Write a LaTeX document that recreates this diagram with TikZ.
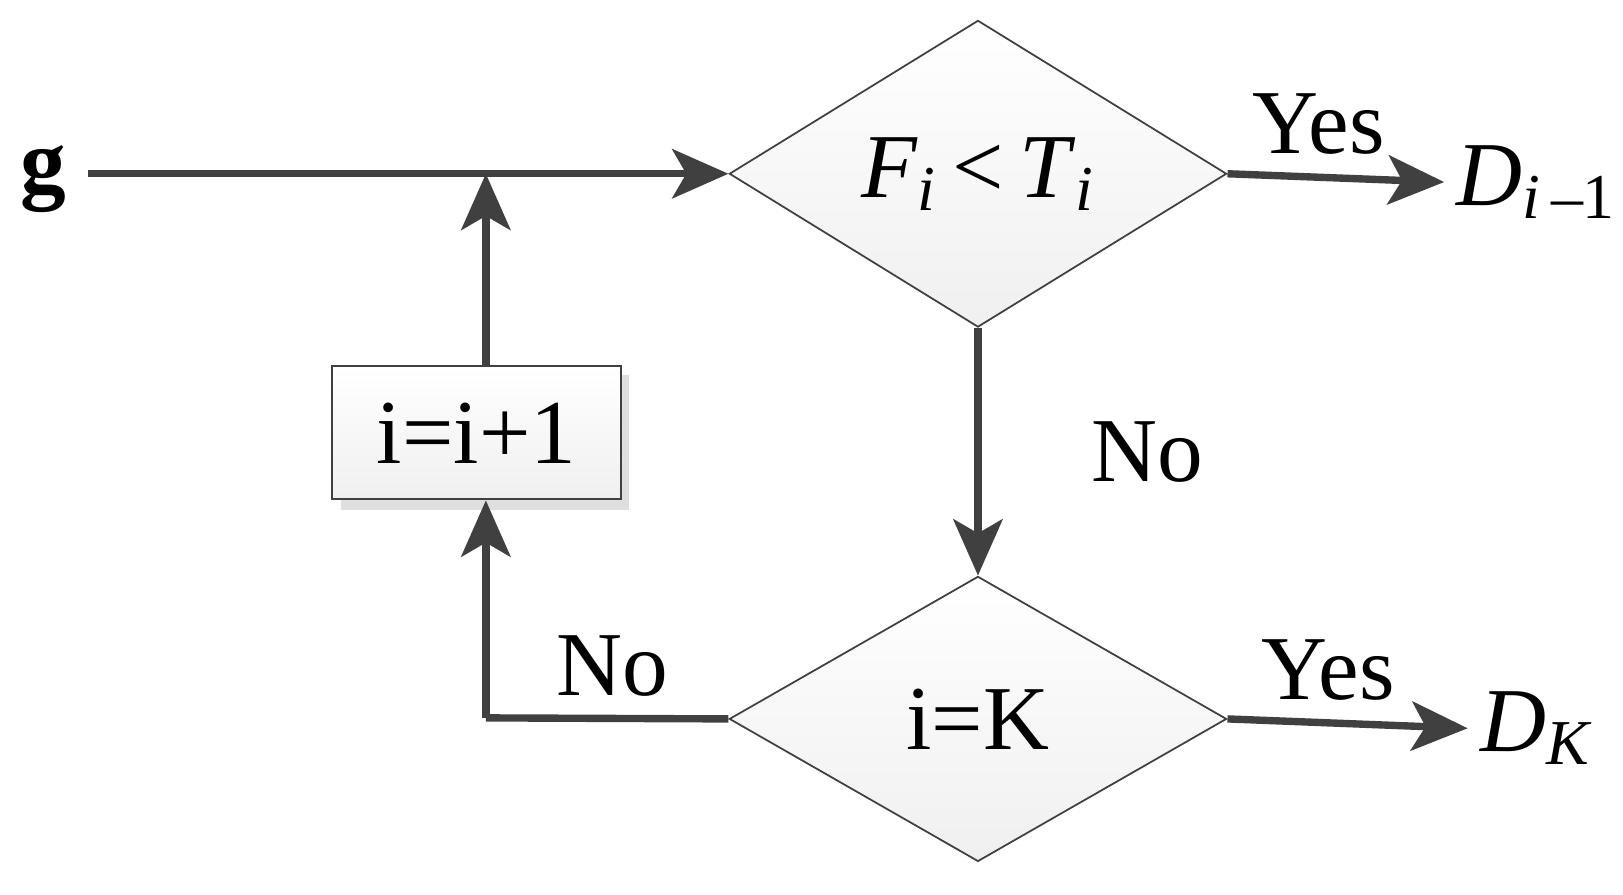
\documentclass[tikz,border=0pt]{standalone}
\usepackage{fontspec}
\setmainfont{Liberation Serif}
\usetikzlibrary{shapes.geometric,arrows.meta,positioning}
\definecolor{linegray}{RGB}{64,64,64}
\newcommand{\vi}[1]{\textit{#1}}
\begin{document}
\begin{tikzpicture}[x=0.0104cm,y=-0.0104cm,
  font=\fontsize{26}{28}\selectfont,
  flow/.style={draw=linegray,line width=2.1pt,-{Stealth[length=16pt,width=14pt,inset=4pt]}},
  line/.style={draw=linegray,line width=2.1pt},
  test node/.style={diamond,draw=linegray,line width=0.5pt,top color=white,bottom color=gray!12,
    inner sep=0pt,minimum width=478*0.0104cm},
  step node/.style={rectangle,draw=linegray,line width=0.6pt,top color=white,bottom color=gray!12,
    minimum width=277*0.0104cm,minimum height=128*0.0104cm}]
  \useasboundingbox (0,0) rectangle (1560,860);

  \node (g) at (42,172) {\textbf{g}};
  \coordinate (gstart) at (85,167);
  \node[test node,minimum height=276*0.0104cm] (test1) at (940,167)
    {\vi{F}\textsubscript{\vi{i}}\,<\,\vi{T}\textsubscript{\vi{i}}};
  \node[test node,minimum height=274*0.0104cm] (test2) at (940,691) {i=K};
  \fill[gray!25] (328,360) rectangle (605,490);
  \node[step node] (step) at (458,416) {i=i+1};

  \node (out1) at (1477,175) {\vi{D}\textsubscript{\vi{i}\,–1}};
  \node (out2) at (1477,700) {\vi{D}\textsubscript{\vi{K}}};
  \coordinate (join) at (467,167);
  \coordinate (corner) at (467,690);

  \draw[flow] (gstart) -- (test1.west);
  \draw[flow] (test1.east) -- (out1.west) node[pos=0.42,above=2pt] {Yes};
  \draw[flow] (test1.south) -- (test2.north) node[midway,right=28pt] {No};
  \draw[flow] (test2.east) -- (out2.west) node[pos=0.42,above=2pt] {Yes};
  \draw[line] (test2.west) -- (corner) node[pos=0.48,above=2pt] {No};
  \draw[flow] (corner) -- (corner |- step.south);
  \draw[flow] (corner |- step.north) -- (join);
\end{tikzpicture}
\end{document}
